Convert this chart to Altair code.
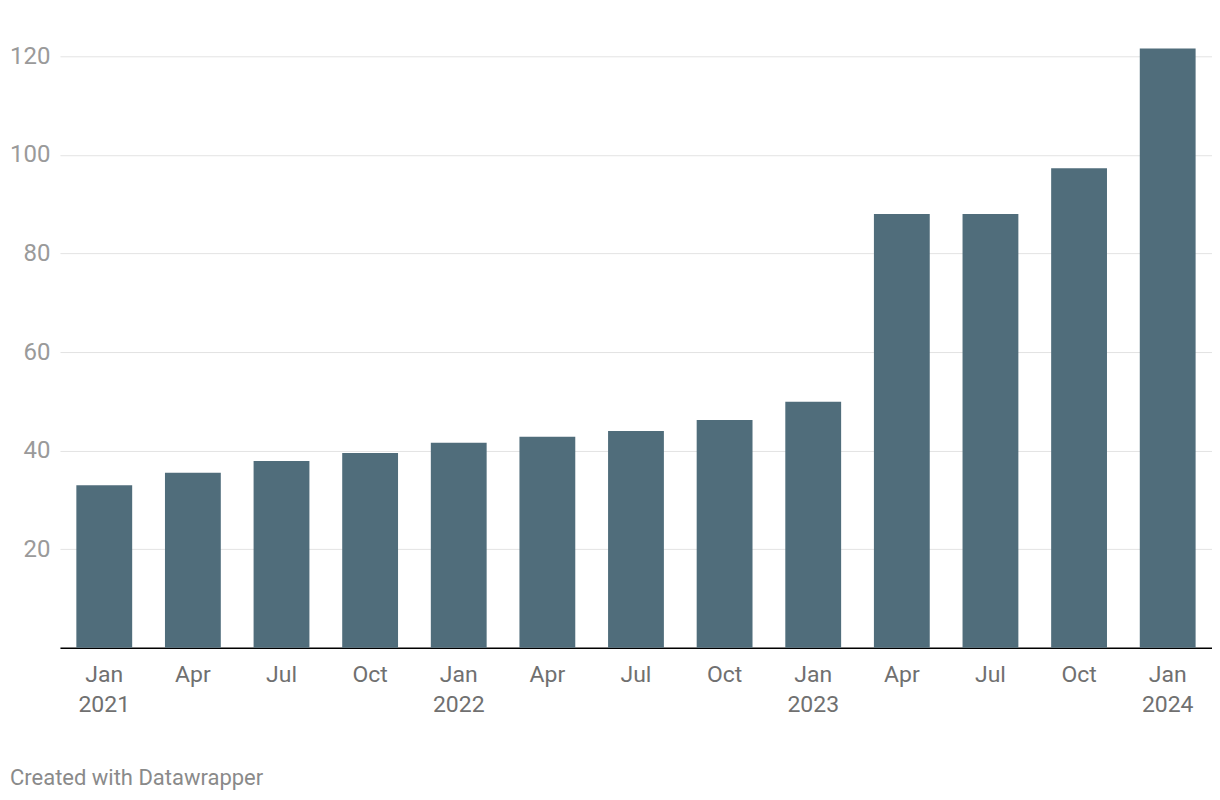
import altair as alt
import pandas as pd

quarters = ["Jan 2021", "Apr 2021", "Jul 2021", "Oct 2021",
            "Jan 2022", "Apr 2022", "Jul 2022", "Oct 2022",
            "Jan 2023", "Apr 2023", "Jul 2023", "Oct 2023", "Jan 2024"]
labels = ["Jan\n2021", "Apr", "Jul", "Oct", "Jan\n2022", "Apr", "Jul", "Oct",
          "Jan\n2023", "Apr", "Jul", "Oct", "Jan\n2024"]
values = [33.0, 35.5, 37.9, 39.5, 41.6, 42.8, 44.0, 46.2, 49.9, 88.0, 88.0, 97.3, 121.6]
y_ticks = [20, 40, 60, 80, 100, 120]

df = pd.DataFrame({"quarter": quarters, "value": values, "label": labels})
label_map = {q: l for q, l in zip(quarters, labels)}
expr = "{" + ",".join(f"'{q}': '{l.replace(chr(10), '|')}'" for q, l in label_map.items()) + "}"

FONT = "Roboto"

bars = alt.Chart(df).mark_bar(color="#506d7b").encode(
    x=alt.X("quarter:N", sort=quarters, title=None,
            scale=alt.Scale(paddingInner=0.37, paddingOuter=0.185),
            axis=alt.Axis(labelAngle=0, ticks=False, domain=True, domainColor="#000000",
                          domainWidth=1.5, labelFont=FONT, labelFontSize=23,
                          labelColor="#707070", labelPadding=16, labelLineHeight=30,
                          labelBaseline="top",
                          labelExpr=f"split({expr}[datum.value], '|')", grid=False)),
    y=alt.Y("value:Q", title=None,
            scale=alt.Scale(domain=[0, 120], nice=False),
            axis=alt.Axis(values=y_ticks, ticks=False, domain=False, grid=True,
                          gridColor="#e3e3e3", gridWidth=1, labelFont=FONT,
                          labelFontSize=24, labelColor="#9a9a9a", labelPadding=10,
                          labelAlign="right", labelBaseline="middle")),
)

footer = alt.Chart(pd.DataFrame({"t": ["Created with Datawrapper"]})).mark_text(
    align="left", baseline="middle", font=FONT, fontSize=22, color="#8a8a8a"
).encode(text="t:N", x=alt.value(-50), y=alt.value(722))

chart = alt.layer(bars, footer).properties(
    width=1153, height=592,
    padding={"left": 52, "top": 48, "right": 0, "bottom": 150},
    autosize=alt.AutoSizeParams(type="none"),
).configure_view(stroke=None)

chart.save("out.html", embed_options={"renderer": "svg", "actions": False})
